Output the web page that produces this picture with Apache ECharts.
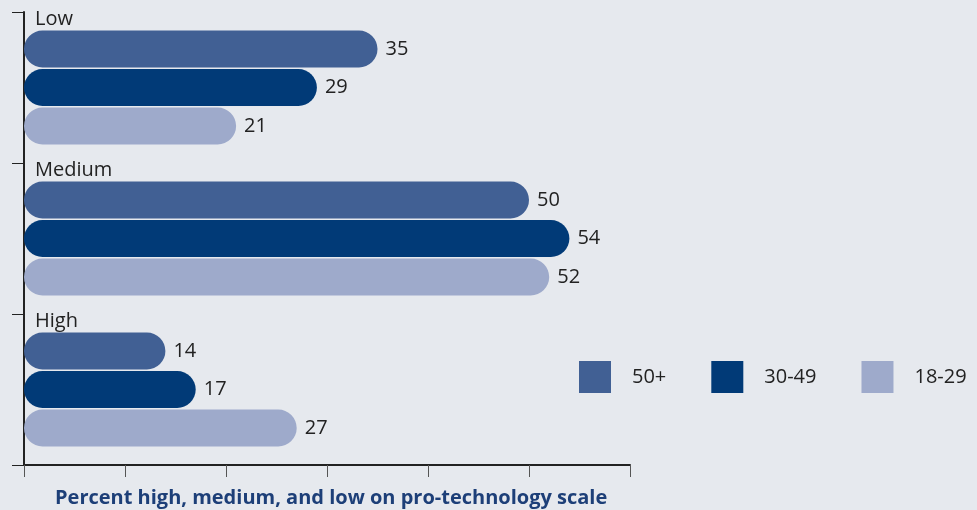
<!DOCTYPE html>
<html>
<head>
<meta charset="utf-8">
<script src="https://cdn.jsdelivr.net/npm/echarts@6/dist/echarts.min.js"></script>
<style>
  html, body { margin: 0; padding: 0; background: #e6e9ee; }
  #chart { width: 977px; height: 510px; }
</style>
</head>
<body>
<div id="chart"></div>
<script>
// Pro-technology scale levels and age groups
const categories = ['Low', 'Medium', 'High'];
const ageGroups = ['50+', '30-49', '18-29'];
const values50plus = [35, 50, 14];
const values30to49 = [29, 54, 17];
const values18to29 = [21, 52, 27];
const xTickInterval = 10;
const xMax = 60;
const axisTitle = 'Percent high, medium, and low on pro-technology scale';

const colors = ['#416094', '#013a77', '#9eaacb'];
const seriesValues = [values50plus, values30to49, values18to29];
const FONT = '"Open Sans", "Liberation Sans", sans-serif';

const chart = echarts.init(document.getElementById('chart'));

const series = ageGroups.map((name, i) => ({
  name,
  type: 'bar',
  data: seriesValues[i],
  barWidth: 37,
  barGap: '4%',
  itemStyle: { color: colors[i], borderRadius: 18.5 },
  label: {
    show: true,
    position: 'right',
    distance: 8,
    color: '#222',
    fontFamily: FONT,
    fontSize: 20
  },
  emphasis: { disabled: true },
  animation: false
}));

chart.setOption({
  backgroundColor: '#e6e9ee',
  animation: false,
  grid: { left: 24, right: 347, top: 12, bottom: 45, containLabel: false },
  title: {
    text: axisTitle,
    left: 55,
    top: 488,
    padding: 0,
    textStyle: { color: '#1d3f78', fontFamily: FONT, fontWeight: 'bold', fontSize: 20 }
  },
  legend: {
    data: ageGroups,
    left: 579,
    top: 361,
    padding: 0,
    icon: 'rect',
    itemWidth: 32,
    itemHeight: 32,
    itemGap: 45,
    selectedMode: false,
    textStyle: { color: '#222', fontFamily: FONT, fontSize: 20, padding: [0, 0, 0, 16] }
  },
  xAxis: {
    type: 'value',
    min: 0,
    max: xMax,
    interval: xTickInterval,
    axisLine: { show: true, lineStyle: { color: '#222', width: 2 } },
    axisTick: { show: true, length: 12, lineStyle: { color: '#555', width: 1 } },
    axisLabel: { show: false },
    splitLine: { show: false }
  },
  yAxis: {
    type: 'category',
    data: categories,
    inverse: true,
    axisLine: { show: true, lineStyle: { color: '#222', width: 2 } },
    axisTick: { show: true, length: 12, lineStyle: { color: '#222', width: 1 } },
    axisLabel: {
      inside: true,
      align: 'left',
      margin: 11,
      formatter: v => '{c|' + v + '}',
      rich: {
        c: {
          color: '#222',
          fontFamily: FONT,
          fontSize: 20,
          padding: [0, 0, 136, 0]
        }
      }
    }
  },
  series
});
</script>
</body>
</html>
